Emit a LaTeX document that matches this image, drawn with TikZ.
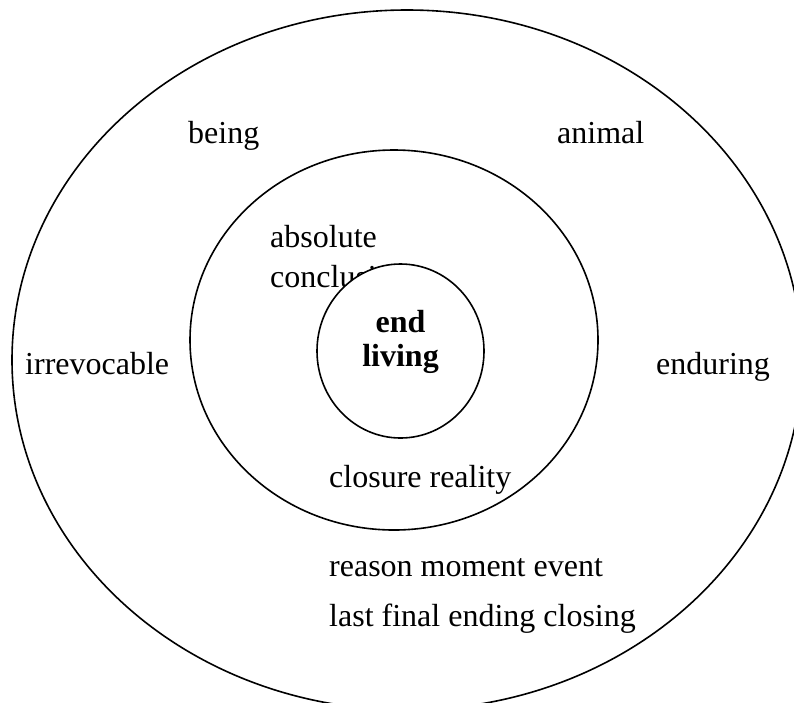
\documentclass[tikz,border=0pt]{standalone}
\usepackage{fontspec}
\setmainfont{Liberation Serif}
\usetikzlibrary{shapes.geometric}
\begin{document}
\begin{tikzpicture}[x=1pt,y=-1pt,
  ring/.style={draw, ellipse, line width=1.6pt, inner sep=0pt},
  word/.style={anchor=base west, inner sep=0pt, font=\fontsize{32}{38}\selectfont},
  core/.style={align=center, inner sep=0pt, font=\fontsize{32}{36}\selectfont\bfseries}]
\useasboundingbox (0,0) rectangle (794,702);
% three nested rings
\node[ring, minimum width=790pt, minimum height=700pt] (outer) at (407,360) {};
\node[ring, minimum width=408pt, minimum height=380pt] (middle) at (394,340) {};
% outer ring words
\node[word] (being) at (188,143) {being};
\node[word] (animal) at (557,143) {animal};
\node[word] (irrevocable) at (25,374) {irrevocable};
\node[word] (enduring) at (656,374) {enduring};
\node[word] (reason) at (329,576) {reason moment event};
\node[word] (last) at (329,626) {last final ending closing};
% middle ring words
\node[word] (absolute) at (270,247) {absolute};
\node[word] (conclusion) at (270,287) {conclusion};
\node[word] (closure) at (329,487) {closure reality};
% inner disc sits on top of the middle words
\node[ring, fill=white, minimum width=167pt, minimum height=174pt] (inner) at (400.5,351) {};
\node[core] (centre) at (400.5,342) {end\\[-2pt]living};
\end{tikzpicture}
\end{document}
